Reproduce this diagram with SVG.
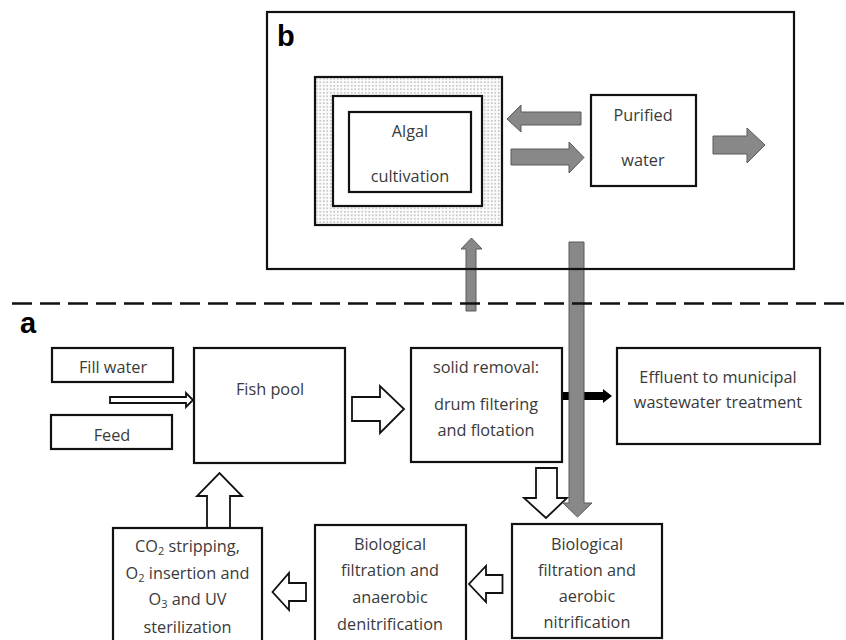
<svg xmlns="http://www.w3.org/2000/svg" width="846" height="640" viewBox="0 0 846 640">
<style>
.box{fill:#fff;stroke:#111;stroke-width:2.2}
.t{font-family:"Open Sans","Liberation Sans",sans-serif;font-size:16.3px;fill:#3a3a3a;text-anchor:middle}
.lbl{font-family:"Liberation Sans",Arial,sans-serif;font-weight:bold;font-size:29px;fill:#000}
.hollow{fill:#fff;stroke:#111;stroke-width:1.8;stroke-linejoin:miter}
.gray{fill:#888;stroke:#5a5a5a;stroke-width:1}
.sub{font-size:11px}
</style>
<defs>
<pattern id="dots" width="3.5" height="3.5" patternUnits="userSpaceOnUse">
<rect width="3.5" height="3.5" fill="#fbfbfb"/>
<circle cx="1.75" cy="1.75" r="0.6" fill="#707070"/>
</pattern>
</defs>

<g id="connectors">
<polygon class="hollow" points="110,397 186,397 186,393 193,400 186,407 186,403 110,403"/>
<polygon class="hollow" points="352,397 380,397 380,386 404,409 380,433 380,421 352,421"/>
<polygon class="hollow" points="536,468 557,468 557,498 567,498 546,518 524,498 536,498"/>
<polygon class="hollow" points="207,528 207,496 197,496 219.5,473 242,496 230,496 230,528"/>
<polygon class="hollow" points="306,583 289,583 289,573 272.5,592 289,610 289,601 306,601"/>
<polygon class="hollow" points="502.5,575 486,575 486,566 469,584 486,602 486,593 502.5,593"/>
<polygon fill="#000" points="562,392 603,392 603,389 612,396 603,403 603,400 562,400"/>
<polygon class="gray" points="507,119 521,105 521,112 581,112 581,125 521,125 521,132"/>
<polygon class="gray" points="511,149 569,149 569,142 584,157.5 569,173 569,165 511,165"/>
<polygon class="gray" points="713,136 747,136 747,128 765,145 747,163 747,154 713,154"/>
<polygon class="gray" points="466,311 466,249 461,249 471.5,238 482,249 476,249 476,311"/>
<polygon class="gray" points="569,242 584,242 584,503 592,503 577.5,517 563,503 569,503"/>
</g>

<g id="panel-b">
<rect x="267" y="12" width="527" height="257" fill="none" stroke="#111" stroke-width="2.2"/>
<text class="lbl" x="277" y="46">b</text>
</g>

<g id="divider">
<line x1="12" y1="303.5" x2="846" y2="303.5" stroke="#111" stroke-width="2.6" stroke-dasharray="20 8"/>
<text class="lbl" x="20" y="333">a</text>
</g>

<g id="algal-cultivation">
<rect x="315" y="77" width="187" height="148" fill="url(#dots)" stroke="#111" stroke-width="2.2"/>
<rect class="box" x="333" y="96" width="149" height="110"/>
<rect class="box" x="349" y="112" width="122" height="80"/>
<text class="t" x="410" y="137">Algal</text>
<text class="t" x="410" y="182">cultivation</text>
</g>

<g id="purified-water">
<rect class="box" x="591" y="95" width="105" height="91"/>
<text class="t" x="643" y="121">Purified</text>
<text class="t" x="643" y="166">water</text>
</g>

<g id="fill-water">
<rect class="box" x="52" y="348" width="121" height="34"/>
<text class="t" x="113" y="373">Fill water</text>
</g>

<g id="feed">
<rect class="box" x="51" y="415" width="121" height="34"/>
<text class="t" x="112" y="441">Feed</text>
</g>

<g id="fish-pool">
<rect class="box" x="194" y="348" width="151" height="115"/>
<text class="t" x="270" y="395">Fish pool</text>
</g>

<g id="solid-removal">
<rect class="box" x="411" y="348" width="151" height="114"/>
<text class="t" x="486" y="373">solid removal:</text>
<text class="t" x="486" y="410">drum filtering</text>
<text class="t" x="486" y="436">and flotation</text>
</g>

<g id="effluent">
<rect class="box" x="617" y="348" width="203" height="96"/>
<text class="t" x="718" y="383">Effluent to municipal</text>
<text class="t" x="718" y="408">wastewater treatment</text>
</g>

<g id="co2-stripping">
<rect class="box" x="113" y="528" width="149" height="120"/>
<text class="t" x="187.5" y="552">CO<tspan class="sub" dy="3">2</tspan><tspan dy="-3"> stripping,</tspan></text>
<text class="t" x="187.5" y="579">O<tspan class="sub" dy="3">2</tspan><tspan dy="-3"> insertion and</tspan></text>
<text class="t" x="187.5" y="605">O<tspan class="sub" dy="3">3</tspan><tspan dy="-3"> and UV</tspan></text>
<text class="t" x="187.5" y="633">sterilization</text>
</g>

<g id="anaerobic-denitrification">
<rect class="box" x="315" y="525" width="151" height="123"/>
<text class="t" x="390" y="550">Biological</text>
<text class="t" x="390" y="576">filtration and</text>
<text class="t" x="390" y="603">anaerobic</text>
<text class="t" x="390" y="630">denitrification</text>
</g>

<g id="aerobic-nitrification">
<rect class="box" x="512" y="524" width="150" height="114"/>
<text class="t" x="587" y="550">Biological</text>
<text class="t" x="587" y="576">filtration and</text>
<text class="t" x="587" y="602">aerobic</text>
<text class="t" x="587" y="628">nitrification</text>
</g>
</svg>
